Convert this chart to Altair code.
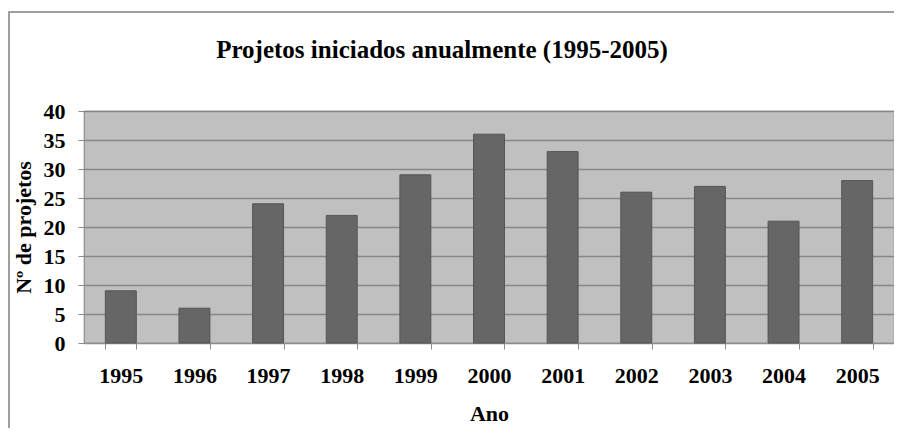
import altair as alt
import pandas as pd

anos = ["1995", "1996", "1997", "1998", "1999", "2000", "2001", "2002", "2003", "2004", "2005"]
projetos = [9, 6, 24, 22, 29, 36, 33, 26, 27, 21, 28]
titulo = ["Projetos iniciados anualmente (1995-2005)"]

df = pd.DataFrame({"Ano": anos, "Projetos": projetos})
df_title = pd.DataFrame({"titulo": titulo})

FONT = "Liberation Serif"

bars = alt.Chart(df).mark_bar(
    fill="#666666", stroke="#555555", strokeWidth=1
).encode(
    x=alt.X(
        "Ano:N",
        sort=anos,
        title="Ano",
        scale=alt.Scale(paddingInner=0.58, paddingOuter=0.29),
        axis=alt.Axis(
            labelAngle=0,
            tickBand="extent",
            tickSize=6,
            tickColor="#8c8c8c",
            domainColor="#8c8c8c",
            labelPadding=16,
            labelFontSize=22,
            labelFont=FONT,
            labelFontWeight="bold",
            labelColor="#000000",
            titleFont=FONT,
            titleFontSize=22,
            titleFontWeight="bold",
            titleColor="#000000",
            titleY=70,
            titleBaseline="middle",
            grid=False,
        ),
    ),
    y=alt.Y(
        "Projetos:Q",
        title="Nº de projetos",
        scale=alt.Scale(domain=[0, 40], nice=False),
        axis=alt.Axis(
            values=[0, 5, 10, 15, 20, 25, 30, 35, 40],
            tickSize=6,
            tickColor="#8c8c8c",
            domain=False,
            gridColor="#868686",
            gridWidth=1.3,
            labelPadding=13,
            labelFontSize=22,
            labelFont=FONT,
            labelFontWeight="bold",
            labelColor="#000000",
            titleFont=FONT,
            titleFontSize=22,
            titleFontWeight="bold",
            titleColor="#000000",
            titleX=-61,
            titleY=116,
            titleAngle=270,
            titleAlign="center",
            titleBaseline="middle",
        ),
    ),
)

frame = alt.Chart(df_title).mark_rect(
    fill="transparent", stroke="#808080", strokeWidth=1.5
).encode(
    x=alt.value(-75),
    x2=alt.value(840),
    y=alt.value(-99),
    y2=alt.value(340),
)

title_text = alt.Chart(df_title).mark_text(
    font=FONT, fontSize=25, fontWeight="bold", color="#000000",
    align="center", baseline="alphabetic"
).encode(
    text="titulo:N",
    x=alt.value(358),
    y=alt.value(-53),
)

chart = alt.layer(frame, bars, title_text).properties(
    width=810,
    height=232,
    padding={"left": 76, "top": 103, "right": 0, "bottom": 85},
    autosize=alt.AutoSizeParams(type="none"),
).configure(
    background="#ffffff"
).configure_view(
    fill="#c0c0c0", stroke="#8c8c8c", strokeWidth=1.2
)

chart.save("out.html", embed_options={"renderer": "svg", "actions": False})
